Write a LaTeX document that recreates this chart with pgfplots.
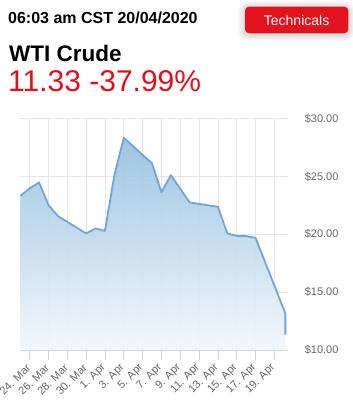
\documentclass[border=0pt]{standalone}
\usepackage{pgfplots}
\pgfplotsset{compat=1.18}
\usepackage{pgfplotstable}
\usepackage{fontspec}
\setmainfont{Liberation Sans}

\definecolor{wtiline}{RGB}{114,166,214}
\definecolor{wtitop}{RGB}{147,191,223}
\definecolor{wtibottom}{RGB}{243,248,253}
\definecolor{gridgray}{RGB}{230,230,230}
\definecolor{axisblue}{RGB}{204,214,235}
\definecolor{labelgray}{RGB}{102,102,102}
\definecolor{quotered}{RGB}{228,16,24}
\definecolor{btnred}{RGB}{227,19,30}

% WTI crude front-month price; day 0 = 24 Mar 2020
\pgfplotstableread{
day   price
-1    23.32
0     23.96
1     24.48
2     22.52
3     21.57
6     20.07
7     20.50
8     20.29
9     25.11
10    28.34
13    26.12
14    23.62
15    25.11
17    22.75
20    22.37
21    20.07
22    19.86
23    19.84
24    19.69
27.17 13.15
27.17 11.33
}\wti

\begin{document}
\begin{tikzpicture}[x=1pt,y=1pt]
\path[use as bounding box] (0,0) rectangle (353,400);
\fill[white] (0,0) rectangle (353,400);

% quote header
\node[anchor=base west, inner sep=0, font=\bfseries\fontsize{16}{18}\selectfont] at (8,376.7) {06:03 am CST 20/04/2020};
\node[anchor=base west, inner sep=0, font=\bfseries\fontsize{22.5}{26}\selectfont] at (9,338.3) {WTI Crude};
\node[anchor=base west, inner sep=0, text=quotered, font=\fontsize{30}{34}\selectfont] at (8,308.3) {11.33 -37.99\%};

% button with a soft glow
\foreach \i in {1,...,7}
  \fill[black, opacity=0.018, rounded corners=4pt+\i pt] (245-\i,366.7-\i-1) rectangle (348.3+\i,393.3+\i-1);
\fill[btnred, rounded corners=4pt] (245,366.7) rectangle (348.3,393.3);
\node[text=white, inner sep=0, font=\fontsize{14}{16}\selectfont] at (296.6,380) {Technicals};

\begin{axis}[
  at={(20pt,50pt)}, anchor=south west,
  scale only axis, width=268.3pt, height=231.5pt,
  xmin=-1.028, xmax=27.48, ymin=10, ymax=30,
  axis x line*=bottom, axis y line*=right,
  x axis line style={draw=axisblue, line width=0.8pt, -},
  y axis line style={draw=none},
  xtick={0,2,...,26},
  xticklabels={24. Mar,26. Mar,28. Mar,30. Mar,1. Apr,3. Apr,5. Apr,7. Apr,9. Apr,11. Apr,13. Apr,15. Apr,17. Apr,19. Apr},
  ytick={10,15,20,25,30},
  yticklabels={\$10.00,\$15.00,\$20.00,\$25.00,\$30.00},
  /pgf/number format/assume math mode=true,
  tick align=outside,
  major tick length=10pt,
  xtick style={draw=axisblue, line width=0.8pt},
  ytick style={draw=none},
  grid=major,
  major grid style={draw=gridgray, line width=0.6pt},
  tick label style={font=\fontsize{11}{13}\selectfont, text=labelgray},
  xticklabel style={xshift=-1pt, rotate=45, anchor=east, inner sep=0pt},
  xticklabel shift=6pt,
  yticklabel style={anchor=west, xshift=3pt},
]
\addplot[draw=none, top color=wtitop, bottom color=wtibottom, fill opacity=0.9]
  table[x=day, y=price]{\wti} -- (axis cs:27.17,10) -- (axis cs:-1.028,10) -- cycle;
\addplot[wtiline, line width=1.8pt, line join=round] table[x=day, y=price]{\wti};
\end{axis}
\end{tikzpicture}
\end{document}
